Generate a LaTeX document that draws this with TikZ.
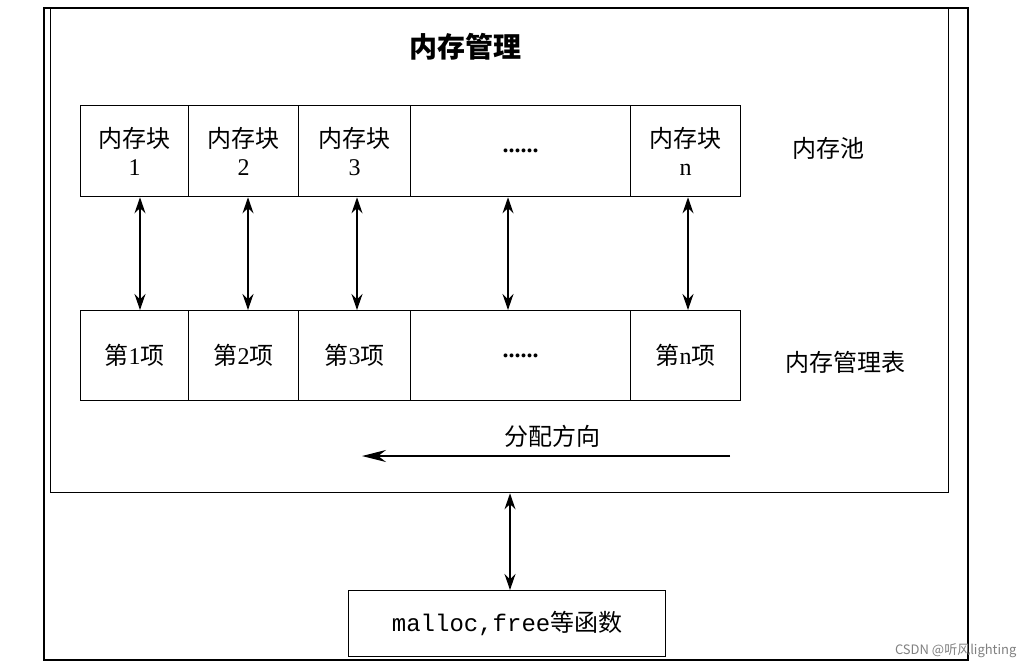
\documentclass[tikz,border=0pt]{standalone}
\usetikzlibrary{arrows.meta}
\usepackage{fontspec}
\setmainfont{Liberation Serif}
\setmonofont{Liberation Mono}
\newfontfamily\cjk{Noto Sans CJK SC}
\begin{document}
\begin{tikzpicture}[x=1pt,y=-1pt,
  box/.style={draw,line width=1.3pt,inner sep=0},
  dbl/.style={<->,line width=1.3pt,>={Stealth[length=16pt,width=11pt]}},
  lab/.style={font=\fontsize{24}{28}\selectfont,align=center}]
\useasboundingbox (0,0) rectangle (1024,669);
\draw[line width=1.3pt] (44,8) rectangle (968,660);
\node[box,minimum width=898,minimum height=484,anchor=north west] (mgr) at (50,8) {};
\node[lab,font=\fontsize{28}{32}\selectfont\cjk\bfseries] (title) at (465,47) {内存管理};
\foreach \a/\b/\n/\t in {80/188/b1/{\cjk 内存块\\1},188/298/b2/{\cjk 内存块\\2},298/410/b3/{\cjk 内存块\\3},410/630/b4/{\bfseries ......},630/740/b5/{\cjk 内存块\\n}}{
  \node[box,lab,minimum width=\b-\a,minimum height=91,anchor=north west] (\n) at (\a,105) {\t};
}
\foreach \a/\b/\n/\t in {80/188/t1/{\cjk 第\rmfamily 1\cjk 项},188/298/t2/{\cjk 第\rmfamily 2\cjk 项},298/410/t3/{\cjk 第\rmfamily 3\cjk 项},410/630/t4/{\bfseries ......},630/740/t5/{\cjk 第\rmfamily n\cjk 项}}{
  \node[box,lab,minimum width=\b-\a,minimum height=90,anchor=north west] (\n) at (\a,310) {\t};
}
\foreach \i/\x in {1/140,2/248,3/357,4/508,5/688}{\draw[dbl] (b\i.south -| \x,0) -- (t\i.north -| \x,0);}
\node[lab,font=\fontsize{24}{28}\selectfont\cjk] (pool) at (828,148) {内存池};
\node[lab,font=\fontsize{24}{28}\selectfont\cjk] (table) at (845,362) {内存管理表};
\node[lab,font=\fontsize{24}{28}\selectfont\cjk] (dir) at (552,436) {分配方向};
\coordinate (d1) at (730,456);
\coordinate (d2) at (362,456);
\draw[->,line width=1.3pt,>={Stealth[length=24pt,width=12pt]}] (d1) -- (d2);
\node[box,lab,minimum width=317,minimum height=66,anchor=north west] (mal) at (348,590) {\ttfamily malloc,free\cjk 等函数};
\draw[dbl] (mgr.south -| 510,0) -- (mal.north -| 510,0);
\node[font=\fontsize{13}{15}\selectfont\cjk,text=gray,anchor=east] (wm) at (1020,651) {CSDN @听风lighting};
\end{tikzpicture}
\end{document}
